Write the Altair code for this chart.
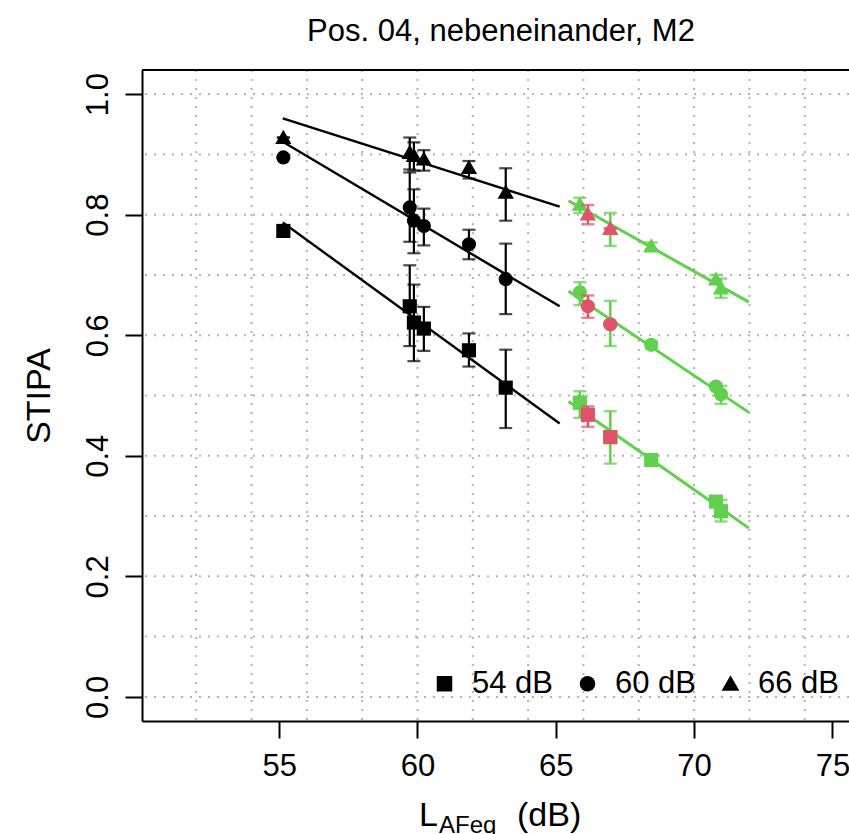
import altair as alt
import pandas as pd

FONT = "Liberation Sans"
BLACK = "#000000"
GREEN = "#61D04F"
RED = "#DF536B"
GRID = "#B3B3B3"

levels = ["54 dB", "60 dB", "66 dB"]
shapes = ["square", "circle", "M0,-1.1L1.15,0.9L-1.15,0.9Z"]

# ---- measured (black) points, x = L_AFeq, y = STIPA ----
black_x = [55.15, 59.72, 59.87, 60.23, 61.86, 63.19]
black_y = {
    "54 dB": [0.773, 0.648, 0.621, 0.611, 0.575, 0.513],
    "60 dB": [0.895, 0.812, 0.790, 0.781, 0.751, 0.693],
    "66 dB": [0.928, 0.903, 0.898, 0.892, 0.878, 0.837],
}
black_lo = {
    "54 dB": [0.773, 0.582, 0.557, 0.574, 0.548, 0.446],
    "60 dB": [0.895, 0.755, 0.736, 0.749, 0.726, 0.635],
    "66 dB": [0.928, 0.875, 0.873, 0.873, 0.860, 0.790],
}
black_hi = {
    "54 dB": [0.773, 0.716, 0.684, 0.647, 0.603, 0.576],
    "60 dB": [0.895, 0.870, 0.842, 0.810, 0.775, 0.752],
    "66 dB": [0.928, 0.928, 0.920, 0.907, 0.889, 0.877],
}

# ---- green points ----
green_x = [65.87, 66.97, 68.45, 70.79, 70.97]
green_y = {
    "54 dB": [0.488, 0.431, 0.393, 0.324, 0.308],
    "60 dB": [0.671, 0.618, 0.584, 0.515, 0.502],
    "66 dB": [0.817, 0.777, 0.748, 0.693, 0.678],
}
green_lo = {
    "54 dB": [0.463, 0.387, 0.387, 0.318, 0.291],
    "60 dB": [0.650, 0.582, 0.578, 0.510, 0.486],
    "66 dB": [0.803, 0.748, 0.742, 0.686, 0.662],
}
green_hi = {
    "54 dB": [0.507, 0.474, 0.399, 0.330, 0.327],
    "60 dB": [0.688, 0.657, 0.590, 0.520, 0.516],
    "66 dB": [0.828, 0.803, 0.754, 0.700, 0.694],
}

# ---- red points ----
red_x = [66.16, 66.97]
red_y = {
    "54 dB": [0.468, 0.431],
    "60 dB": [0.648, 0.618],
    "66 dB": [0.801, 0.777],
}
red_lo = {
    "54 dB": [0.448, 0.431],
    "60 dB": [0.629, 0.618],
    "66 dB": [0.784, 0.777],
}
red_hi = {
    "54 dB": [0.482, 0.431],
    "60 dB": [0.666, 0.618],
    "66 dB": [0.816, 0.777],
}

# ---- fitted lines (end points) ----
black_line_x = [55.13, 65.14]
black_line_y = {
    "54 dB": [0.787, 0.4535],
    "60 dB": [0.921, 0.648],
    "66 dB": [0.9596, 0.8134],
}
green_line_x = [65.46, 71.98]
green_line_y = {
    "54 dB": [0.490, 0.280],
    "60 dB": [0.673, 0.472],
    "66 dB": [0.823, 0.655],
}

grid_x = [52, 54, 56, 58, 60, 62, 64, 66, 68, 70, 72, 74]
grid_y = [0.0, 0.1, 0.2, 0.3, 0.4, 0.5, 0.6, 0.7, 0.8, 0.9, 1.0]
x_ticks = [55, 60, 65, 70, 75]
y_ticks = [0.0, 0.2, 0.4, 0.6, 0.8, 1.0]

W, H = 707, 651


def points_df(xs, ys, los, his):
    rows = []
    for lev in levels:
        for i, xv in enumerate(xs):
            rows.append({"x": xv, "y": ys[lev][i], "lo": los[lev][i],
                         "hi": his[lev][i], "level": lev})
    return pd.DataFrame(rows)


def caps_df(df):
    a = df[["x", "lo"]].rename(columns={"lo": "c"})
    b = df[["x", "hi"]].rename(columns={"hi": "c"})
    return pd.concat([a, b], ignore_index=True)


def line_df(xs, ys):
    rows = []
    for lev in levels:
        for i, xv in enumerate(xs):
            rows.append({"x": xv, "y": ys[lev][i], "level": lev})
    return pd.DataFrame(rows)


xs = alt.Scale(domain=[50.04, 75.6], nice=False, zero=False)
ys = alt.Scale(domain=[-0.04, 1.04], nice=False, zero=False)
shape_scale = alt.Scale(domain=levels, range=shapes)

x_axis = alt.Axis(values=x_ticks, format="d", title=None, grid=False,
                  labelFlush=False, labelOverlap=False, labelPadding=13)
y_axis = alt.Axis(values=y_ticks, format=".1f", title="STIPA", grid=False,
                  labelAngle=-90, labelAlign="center", labelBaseline="alphabetic",
                  labelPadding=18, labelFlush=False, labelOverlap=False,
                  titleAngle=-90, titleAlign="center", titleBaseline="alphabetic",
                  titleX=-93, titleY=H / 2, titleFontSize=34, titleFont=FONT,
                  titleFontWeight="normal", titleColor="black")


def X(field):
    return alt.X(field, scale=xs, axis=x_axis)


def Y(field):
    return alt.Y(field, scale=ys, axis=y_axis)


# grid lines
grid_v = alt.Chart(pd.DataFrame({"g": grid_x})).mark_rule(
    color=GRID, strokeDash=[2, 7], strokeWidth=2
).encode(x=X("g:Q"))
grid_h = alt.Chart(pd.DataFrame({"g": grid_y})).mark_rule(
    color=GRID, strokeDash=[2, 7], strokeWidth=2
).encode(y=Y("g:Q"))

# top frame line
top_frame = alt.Chart(pd.DataFrame({"a": [0]})).mark_rule(
    color="black", strokeWidth=2
).encode(x=alt.value(0), x2=alt.value(W + 5), y=alt.value(0))


def layer_set(df, color, line_w, legend):
    caps = caps_df(df)
    err = alt.Chart(df).mark_rule(color=color, strokeWidth=line_w).encode(
        x=X("x:Q"), y=Y("lo:Q"), y2="hi:Q",
    )
    cap = alt.Chart(caps).mark_tick(
        color=color, orient="horizontal", size=13, thickness=line_w
    ).encode(x=X("x:Q"), y=Y("c:Q"))
    pts = alt.Chart(df).mark_point(
        filled=True, opacity=1, color=color, size=200, strokeWidth=0
    ).encode(
        x=X("x:Q"), y=Y("y:Q"),
        shape=alt.Shape("level:N", scale=shape_scale, legend=legend),
    )
    return [err, cap, pts]


def line_layer(df, color, w):
    return alt.Chart(df).mark_line(color=color, strokeWidth=w).encode(
        x=X("x:Q"), y=Y("y:Q"), detail="level:N",
    )


legend = alt.Legend(
    orient="none", legendX=287, legendY=598, direction="horizontal", title=None,
    labelFontSize=31, labelFont=FONT, labelColor="black", symbolSize=240,
    symbolFillColor="black", symbolStrokeColor="black", symbolStrokeWidth=0,
    labelOffset=12, columnPadding=18, padding=0,
)

black_df = points_df(black_x, black_y, black_lo, black_hi)
green_df = points_df(green_x, green_y, green_lo, green_hi)
red_df = points_df(red_x, red_y, red_lo, red_hi)


def text_layer(txt, size, x, y, align="left"):
    return alt.Chart(pd.DataFrame({"t": [txt]})).mark_text(
        font=FONT, fontSize=size, align=align, baseline="alphabetic", color="black"
    ).encode(text="t:N", x=alt.value(x), y=alt.value(y))


# chart title and x-axis title with subscript: L_AFeq (dB)
title_txt = text_layer("Pos. 04, nebeneinander, M2", 31, 359, -29, align="center")
xt_main = text_layer("L", 34, 277, 756)
xt_sub = text_layer("AFeq", 24, 297, 763)
xt_unit = text_layer("(dB)", 34, 375, 756)

layers = [grid_v, grid_h, top_frame]
layers += [line_layer(line_df(black_line_x, black_line_y), BLACK, 2.4)]
layers += layer_set(black_df, BLACK, 2.2, legend)
layers += [line_layer(line_df(green_line_x, green_line_y), GREEN, 3)]
layers += layer_set(green_df, GREEN, 2.5, None)
layers += layer_set(red_df, RED, 2.5, None)
layers += [title_txt, xt_main, xt_sub, xt_unit]

chart = alt.layer(*layers).properties(
    width=W, height=H,
    autosize=alt.AutoSizeParams(type="none"),
    padding={"left": 142, "top": 70, "right": 0, "bottom": 113},
).configure_view(stroke=None).configure_axis(
    labelFont=FONT, labelFontSize=31, labelColor="black",
    domainColor="black", domainWidth=2, tickColor="black", tickWidth=2,
    tickSize=17,
)

chart.save("out.html", embed_options={"renderer": "svg", "actions": False})
